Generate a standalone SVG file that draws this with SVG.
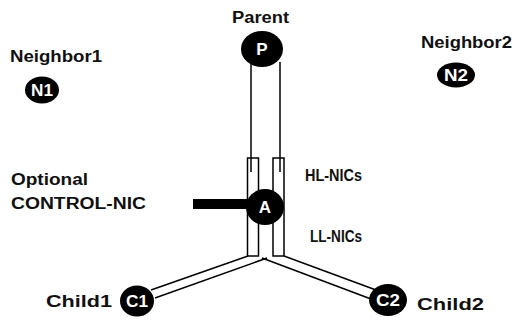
<svg xmlns="http://www.w3.org/2000/svg" width="516" height="322" viewBox="0 0 516 322">
<style>
.lbl{font-family:"Liberation Sans",Arial,sans-serif;font-weight:bold;font-size:16px;fill:#111}
.nt{font-family:"Liberation Sans",Arial,sans-serif;font-weight:bold;font-size:17px;fill:#fff;text-anchor:middle}
.node{fill:#000}
.ln{stroke:#000;stroke-width:1.5;fill:none}
.nic{stroke:#000;stroke-width:1.5;fill:none}
</style>
<rect width="516" height="322" fill="#fff"/>
<g id="connectors">
<line class="ln" x1="251" y1="62" x2="251" y2="172"/>
<line class="ln" x1="280" y1="62" x2="280" y2="172"/>
<line class="ln" x1="248" y1="256" x2="151" y2="290"/>
<line class="ln" x1="267" y1="258" x2="155" y2="298"/>
<line class="ln" x1="284" y1="256" x2="376" y2="290"/>
<line class="ln" x1="262" y1="258" x2="371" y2="299"/>
<rect x="193" y="199" width="58" height="10" fill="#000"/>
</g>
<g id="nics">
<rect class="nic" x="247.5" y="158" width="11" height="98"/>
<rect class="nic" x="273" y="158" width="11" height="98"/>
</g>
<g id="parent">
<text class="lbl" x="232" y="23" textLength="57" lengthAdjust="spacingAndGlyphs">Parent</text>
<ellipse class="node" cx="262" cy="49" rx="21" ry="18"/>
<text class="nt" x="262" y="55">P</text>
</g>
<g id="neighbor1">
<text class="lbl" x="10" y="62" textLength="92" lengthAdjust="spacingAndGlyphs">Neighbor1</text>
<ellipse class="node" cx="42" cy="90" rx="17" ry="13.5"/>
<text class="nt" x="42" y="96" textLength="22" lengthAdjust="spacingAndGlyphs">N1</text>
</g>
<g id="neighbor2">
<text class="lbl" x="421" y="48" textLength="91" lengthAdjust="spacingAndGlyphs">Neighbor2</text>
<ellipse class="node" cx="456" cy="75" rx="19" ry="12.5"/>
<text class="nt" x="456" y="81" textLength="24" lengthAdjust="spacingAndGlyphs">N2</text>
</g>
<g id="a">
<ellipse class="node" cx="265" cy="207" rx="19" ry="18"/>
<text class="nt" x="265" y="213">A</text>
</g>
<g id="labels">
<text class="lbl" x="11" y="185" textLength="77" lengthAdjust="spacingAndGlyphs">Optional</text>
<text class="lbl" x="11" y="209" textLength="135" lengthAdjust="spacingAndGlyphs">CONTROL-NIC</text>
<text class="lbl" x="305" y="181" textLength="57" lengthAdjust="spacingAndGlyphs">HL-NICs</text>
<text class="lbl" x="310" y="242" textLength="52" lengthAdjust="spacingAndGlyphs">LL-NICs</text>
</g>
<g id="child1">
<text class="lbl" x="46" y="307" textLength="66" lengthAdjust="spacingAndGlyphs">Child1</text>
<ellipse class="node" cx="137" cy="301" rx="17" ry="15.5"/>
<text class="nt" x="137" y="307" textLength="22" lengthAdjust="spacingAndGlyphs">C1</text>
</g>
<g id="child2">
<text class="lbl" x="417" y="310" textLength="67" lengthAdjust="spacingAndGlyphs">Child2</text>
<ellipse class="node" cx="388" cy="300" rx="19" ry="16"/>
<text class="nt" x="388" y="306" textLength="24" lengthAdjust="spacingAndGlyphs">C2</text>
</g>
</svg>
